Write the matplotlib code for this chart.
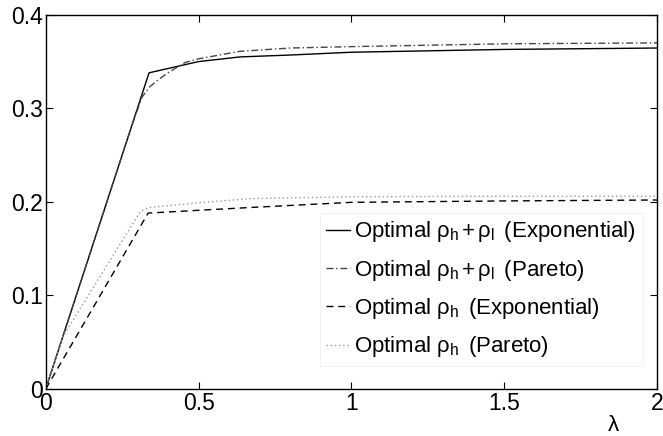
import numpy as np
import matplotlib
matplotlib.use("Agg")
import matplotlib.pyplot as plt

plt.rcParams['font.family'] = ['Liberation Sans', 'DejaVu Sans']
plt.rcParams['mathtext.fontset'] = 'custom'
plt.rcParams['mathtext.rm'] = 'Liberation Sans'
plt.rcParams['mathtext.it'] = 'Liberation Sans'

# optimal rho_h + rho_l, exponential
x_sum_exp = [0, 0.338, 0.5, 0.636, 0.8, 1.0, 1.5, 2.0]
y_sum_exp = [0, 0.338, 0.350, 0.355, 0.357, 0.360, 0.363, 0.3645]

# optimal rho_h + rho_l, pareto
x_sum_par = [0, 0.28, 0.315, 0.34, 0.37, 0.4, 0.456, 0.5, 0.636, 0.8, 1.0, 1.5, 2.0]
y_sum_par = [0, 0.28, 0.312, 0.323, 0.331, 0.338, 0.349, 0.353, 0.361, 0.3645, 0.366, 0.369, 0.370]

# optimal rho_h, exponential
x_h_exp = [0, 0.335, 0.5, 0.67, 1.0, 1.5, 2.0]
y_h_exp = [0, 0.188, 0.191, 0.194, 0.1995, 0.201, 0.202]

# optimal rho_h, pareto
x_h_par = [0, 0.056, 0.31, 0.34, 0.5, 0.67, 1.0, 1.5, 2.0]
y_h_par = [0, 0.056, 0.19, 0.194, 0.199, 0.2035, 0.2055, 0.206, 0.206]

labels = [r'Optimal $\rho_{h}\,$+$\,\rho_{l}\,$ (Exponential)',
          r'Optimal $\rho_{h}\,$+$\,\rho_{l}\,$ (Pareto)',
          r'Optimal $\rho_{h}\,$ (Exponential)',
          r'Optimal $\rho_{h}\,$ (Pareto)']

fig = plt.figure(figsize=(6.63, 4.36), dpi=100)
ax = fig.add_axes([0.069, 0.108, 0.922, 0.858])

ax.plot(x_sum_exp, y_sum_exp, '-', color='black', lw=1.0, label=labels[0])
ax.plot(x_sum_par, y_sum_par, color='#444444', lw=1.0, dashes=(5, 2, 1, 2), label=labels[1])
ax.plot(x_h_exp, y_h_exp, color='black', lw=1.0, dashes=(5, 3.5), label=labels[2])
ax.plot(x_h_par, y_h_par, color='#999999', lw=1.0, dashes=(1, 2), label=labels[3])

ax.set_xlim(0, 2)
ax.set_ylim(0, 0.4)
ax.set_xticks([0, 0.5, 1, 1.5, 2])
ax.set_xticklabels(['0', '0.5', '1', '1.5', '2'])
ax.set_yticks([0, 0.1, 0.2, 0.3, 0.4])
ax.set_yticklabels(['0', '0.1', '0.2', '0.3', '0.4'])
ax.tick_params(direction='in', top=True, right=True, length=5, labelsize=16.5, pad=2)
for s in ax.spines.values():
    s.set_linewidth(1.0)

ax.set_xlabel(r'$\lambda$', fontsize=16)
ax.xaxis.set_label_coords(0.928, -0.07)

leg = ax.legend(loc='upper left', bbox_to_anchor=(0.448, 0.471), fontsize=16,
                frameon=True, fancybox=False, edgecolor='#f2f2f2', framealpha=1,
                handlelength=1.05, handletextpad=0.22, labelspacing=0.6,
                borderpad=0.3, borderaxespad=0)
leg.get_frame().set_linewidth(0.8)

fig.savefig("out.png", dpi=100)
